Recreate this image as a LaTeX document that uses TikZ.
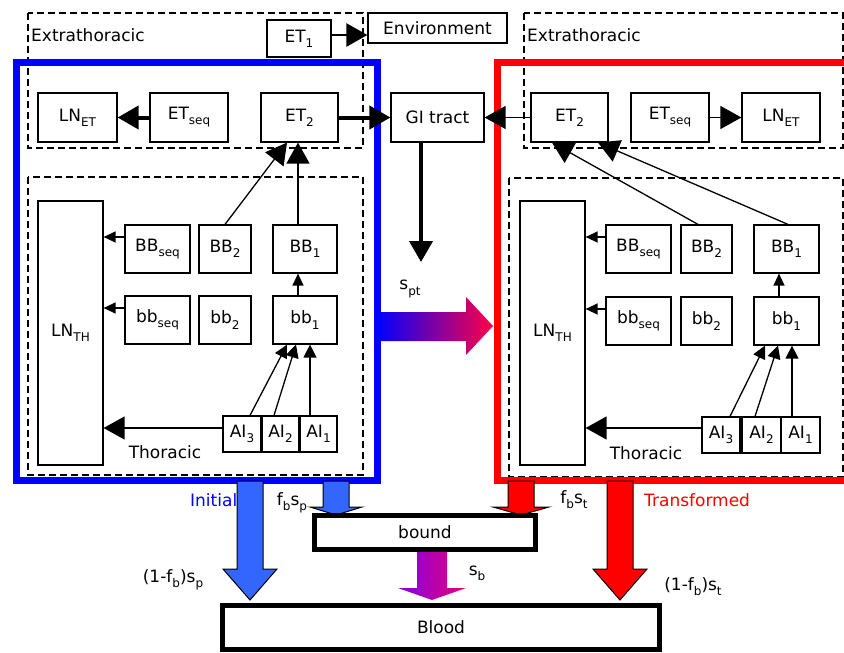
\documentclass[tikz,border=0pt]{standalone}
\usepackage{fontspec}
\setmainfont{DejaVu Sans}
\usetikzlibrary{arrows.meta,calc}
\definecolor{arrblue}{RGB}{51,102,255}
\definecolor{gradL}{RGB}{0,0,255}
\definecolor{gradR}{RGB}{255,0,70}
\definecolor{gradLb}{RGB}{125,0,235}
\definecolor{gradRb}{RGB}{235,0,115}
\newcommand\sbs[1]{\raisebox{-0.3em}{\fontsize{12pt}{12pt}\selectfont #1}}
\newcommand\darrow[7]{\path[#1] (#2-#6,#3) -- (#2+#6,#3) -- (#2+#6,#4) -- (#2+#7,#4) -- (#2,#5) -- (#2-#7,#4) -- (#2-#6,#4) -- cycle;}
\begin{document}
\begin{tikzpicture}[x=1pt,y=-1pt,
  font=\fontsize{17pt}{20pt}\selectfont,
  bx/.style n args={2}{draw,line width=1.2pt,fill=white,inner sep=0pt,minimum width=#1,minimum height=#2},
  lbl/.style={inner sep=0pt},
  dbox/.style={draw,line width=1.2pt,dash pattern=on 7pt off 4pt},
  conn/.style={line width=1.3pt},
  thickc/.style={line width=4pt},
  bigtip/.style={-{Triangle[length=21pt,width=23pt]}},
  midtip/.style={-{Triangle[length=13pt,width=13pt]}},
  smalltip/.style={-{Triangle[length=12pt,width=11pt]}},
  bigblock/.style={draw=black,line width=1pt},
]
\useasboundingbox (0,0) rectangle (844,653);
\clip (0,0) rectangle (844,653);
\fill[white] (0,0) rectangle (844,653);

% dashed compartments
\draw[dbox] (28,13) rectangle (363,148);
\draw[dbox] (28,177) rectangle (363,475);
\draw[dbox] (524,13) rectangle (843,148);
\draw[dbox] (509,178) rectangle (843,477);

% gradient transfer arrow
\shade[left color=gradL,right color=gradR] (377,312) -- (466,312) -- (466,297) -- (493,326) -- (466,355) -- (466,341) -- (377,341) -- cycle;

% initial / transformed frames
\draw[blue,line width=7pt] (16.5,62) rectangle (377,480);
\draw[red,line width=7pt] (497,62) rectangle (860,480);

% labels of compartments
\node[lbl,anchor=west] (exl) at (31,35) {Extrathoracic};
\node[lbl,anchor=west] (exr) at (527,35) {Extrathoracic};
\node[lbl] (thl) at (165,452) {Thoracic};
\node[lbl] (thr) at (646,453) {Thoracic};

% top boxes
\node[bx={64pt}{37pt}] (ET1) at (299,38.5) {ET\sbs{1}};
\node[bx={139pt}{30pt}] (Env) at (437.5,28) {Environment};
\node[bx={79pt}{49pt}] (LNETl) at (77.5,117.5) {LN\sbs{ET}};
\node[bx={78pt}{49pt}] (ETseql) at (189,117.5) {ET\sbs{seq}};
\node[bx={77pt}{49pt}] (ET2l) at (299.5,117.5) {ET\sbs{2}};
\node[bx={93pt}{49pt}] (GI) at (437.5,117.5) {GI tract};
\node[bx={77pt}{49pt}] (ET2r) at (569.5,117.5) {ET\sbs{2}};
\node[bx={78pt}{49pt}] (ETseqr) at (670,117.5) {ET\sbs{seq}};
\node[bx={78pt}{49pt}] (LNETr) at (781,117.5) {LN\sbs{ET}};

% left thoracic
\node[bx={65pt}{264pt}] (LNTHl) at (70.5,333) {LN\sbs{TH}};
\node[bx={65pt}{48pt}] (BBseql) at (157.5,249) {BB\sbs{seq}};
\node[bx={52pt}{48pt}] (BB2l) at (225,249) {BB\sbs{2}};
\node[bx={64pt}{48pt}] (BB1l) at (305,249) {BB\sbs{1}};
\node[bx={65pt}{48pt}] (bbseql) at (157.5,320) {bb\sbs{seq}};
\node[bx={52pt}{48pt}] (bb2l) at (225,320) {bb\sbs{2}};
\node[bx={64pt}{48pt}] (bb1l) at (305,320) {bb\sbs{1}};
\node[bx={38pt}{36pt}] (AI3l) at (242,434) {AI\sbs{3}};
\node[bx={36pt}{36pt}] (AI2l) at (280.5,434) {AI\sbs{2}};
\node[bx={37pt}{36pt}] (AI1l) at (318.5,434) {AI\sbs{1}};

% right thoracic
\node[bx={65pt}{264pt}] (LNTHr) at (552.5,333) {LN\sbs{TH}};
\node[bx={65pt}{48pt}] (BBseqr) at (638.5,249) {BB\sbs{seq}};
\node[bx={51pt}{48pt}] (BB2r) at (706.5,249) {BB\sbs{2}};
\node[bx={65pt}{48pt}] (BB1r) at (786.5,249) {BB\sbs{1}};
\node[bx={65pt}{48pt}] (bbseqr) at (638.5,321) {bb\sbs{seq}};
\node[bx={51pt}{48pt}] (bb2r) at (706.5,321) {bb\sbs{2}};
\node[bx={65pt}{48pt}] (bb1r) at (786.5,321) {bb\sbs{1}};
\node[bx={38pt}{36pt}] (AI3r) at (721,435) {AI\sbs{3}};
\node[bx={39pt}{36pt}] (AI2r) at (761.5,435) {AI\sbs{2}};
\node[bx={39pt}{36pt}] (AI1r) at (800.5,435) {AI\sbs{1}};

% connectors, top
\draw[line width=2.5pt,bigtip] ([yshift=3.5pt]ET1.east) coordinate (e1) -- (Env.west |- e1);
\draw[thickc,bigtip] (ETseql.west) -- (LNETl.east);
\draw[thickc,bigtip] (ET2l.east) -- (GI.west);
\draw[conn,bigtip] (ET2r.west) -- (GI.east);
\draw[conn,bigtip] (ETseqr.east) -- (LNETr.west);
\coordinate (git) at (421,262);
\draw[thickc,bigtip] (GI.south -| git) -- (git);

% connectors, left
\draw[conn,bigtip] (BB2l.north) -- ([xshift=-12.5pt]ET2l.south);
\draw[conn,bigtip] ([xshift=-7pt]BB1l.north) -- ([xshift=-1.5pt]ET2l.south);
\draw[conn,smalltip] ([xshift=-7pt]bb1l.north) -- ([xshift=-7pt]BB1l.south);
\draw[conn,midtip] ([xshift=8pt]AI3l.north) -- ([xshift=-18pt]bb1l.south);
\draw[conn,midtip] ([xshift=-6.5pt]AI2l.north) -- ([xshift=-9pt]bb1l.south);
\draw[conn,midtip] ([xshift=-8.5pt]AI1l.north) -- ([xshift=5pt]bb1l.south);
\draw[conn,bigtip] ([yshift=6pt]AI3l.west) coordinate (a3l) -- (LNTHl.east |- a3l);
\draw[conn,smalltip] ([yshift=12pt]BBseql.west) coordinate (bsl) -- (LNTHl.east |- bsl);
\draw[conn,smalltip] ([yshift=12pt]bbseql.west) coordinate (ssl) -- (LNTHl.east |- ssl);

% connectors, right
\draw[conn,bigtip] ([xshift=-8.5pt]BB2r.north) -- ([xshift=-17.5pt]ET2r.south);
\draw[conn,bigtip] ([xshift=1.5pt]BB1r.north) -- ([xshift=28.5pt]ET2r.south);
\draw[conn,smalltip] ([xshift=-7.5pt]bb1r.north) -- ([xshift=-7.5pt]BB1r.south);
\draw[conn,midtip] ([xshift=9pt]AI3r.north) -- ([xshift=-21.5pt]bb1r.south);
\draw[conn,midtip] ([xshift=-6.5pt]AI2r.north) -- ([xshift=-8.5pt]bb1r.south);
\draw[conn,midtip] ([xshift=-8.5pt]AI1r.north) -- ([xshift=5.5pt]bb1r.south);
\draw[conn,bigtip] ([yshift=7pt]AI3r.west) coordinate (a3r) -- (LNTHr.east |- a3r);
\draw[conn,smalltip] ([yshift=12pt]BBseqr.west) coordinate (bsr) -- (LNTHr.east |- bsr);
\draw[conn,smalltip] ([yshift=12pt]bbseqr.west) coordinate (ssr) -- (LNTHr.east |- ssr);

\node[lbl] (spt) at (410,289) {s\sbs{pt}};

% bottom part
\darrow{bigblock,fill=arrblue}{250}{481}{569}{600}{13}{27}
\darrow{bigblock,fill=arrblue}{336}{481}{507}{515}{13}{26}
\darrow{bigblock,fill=red}{521}{481}{507}{515}{13}{28}
\darrow{bigblock,fill=red}{620}{481}{569}{600}{13}{27}
\shade[left color=gradLb,right color=gradRb] (417,550) -- (447,550) -- (447,588) -- (466,588) -- (432,600) -- (398,588) -- (417,588) -- cycle;

\node[draw,line width=5pt,fill=white,inner sep=0pt,minimum width=221pt,minimum height=34pt] (bound) at (425,532.5) {bound};
\node[draw,line width=5pt,fill=white,inner sep=0pt,minimum width=437pt,minimum height=44pt] (blood) at (441,627.5) {Blood};

\node[lbl,anchor=west,text=blue] (init) at (190,500) {Initial};
\node[lbl,anchor=west,text=red] (trans) at (644,500) {Transformed};
\node[lbl] (fbsp) at (292,503) {f\sbs{b}s\sbs{p}};
\node[lbl] (fbst) at (574,500) {f\sbs{b}s\sbs{t}};
\node[lbl] (ofsp) at (173,580) {(1-f\sbs{b})s\sbs{p}};
\node[lbl] (ofst) at (693,587) {(1-f\sbs{b})s\sbs{t}};
\node[lbl] (sb) at (477,573) {s\sbs{b}};
\end{tikzpicture}
\end{document}
